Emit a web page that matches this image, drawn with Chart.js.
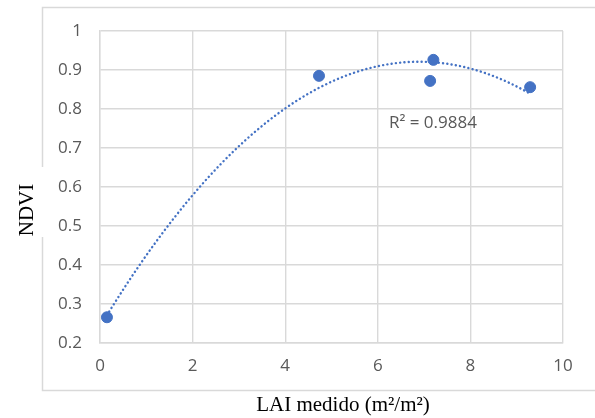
<!DOCTYPE html>
<html>
<head>
<meta charset="utf-8">
<script src="https://cdn.jsdelivr.net/npm/chart.js@4"></script>
<style>
  body { margin: 0; background: #fff; }
  #wrap { width: 595px; height: 418px; position: relative; }
</style>
</head>
<body>
<div id="wrap"><canvas id="chart"></canvas></div>
<script>
// measured LAI vs NDVI
const laiMedido = [0.15, 4.73, 7.13, 7.2, 9.29];
const ndvi = [0.266, 0.885, 0.872, 0.926, 0.856];
const xTitle = 'LAI medido (m²/m²)';
const yTitle = 'NDVI';
const r2Text = 'R² = 0.9884';

// 2nd order polynomial trendline (least squares, like excel)
function quadFit(xs, ys) {
  var n = xs.length, s = [0, 0, 0, 0, 0], t = [0, 0, 0];
  for (var i = 0; i < n; i++) {
    var p = 1;
    for (var k = 0; k < 5; k++) { s[k] += p; if (k < 3) t[k] += p * ys[i]; p *= xs[i]; }
  }
  var m = [[s[0], s[1], s[2], t[0]], [s[1], s[2], s[3], t[1]], [s[2], s[3], s[4], t[2]]];
  for (var c = 0; c < 3; c++) {
    for (var r = c + 1; r < 3; r++) {
      var f = m[r][c] / m[c][c];
      for (var j = c; j < 4; j++) m[r][j] -= f * m[c][j];
    }
  }
  var b = [0, 0, 0];
  for (var r2 = 2; r2 >= 0; r2--) {
    var v = m[r2][3];
    for (var j2 = r2 + 1; j2 < 3; j2++) v -= m[r2][j2] * b[j2];
    b[r2] = v / m[r2][r2];
  }
  return b;
}

var coef = quadFit(laiMedido, ndvi);
var xMin = Math.min.apply(null, laiMedido), xMax = Math.max.apply(null, laiMedido);
var trend = [];
for (var i = 0; i <= 80; i++) {
  var x = xMin + (xMax - xMin) * i / 80;
  trend.push({ x: x, y: coef[0] + coef[1] * x + coef[2] * x * x });
}

const gridColor = '#d9d9d9';
const tickColor = '#595959';
const blue = '#4472c4';

var framePlugin = {
  id: 'frame',
  beforeDraw: function(chart) {
    var ctx = chart.ctx;
    ctx.save();
    ctx.fillStyle = '#fff';
    ctx.fillRect(0, 0, chart.width, chart.height);
    ctx.strokeStyle = gridColor;
    ctx.lineWidth = 1.5;
    ctx.beginPath();
    ctx.moveTo(chart.width + 2, 7.5); ctx.lineTo(42.5, 7.5); ctx.lineTo(42.5, 167);
    ctx.moveTo(42.5, 237); ctx.lineTo(42.5, 390.5); ctx.lineTo(chart.width + 2, 390.5);
    ctx.stroke();
    ctx.restore();
  },
  afterDraw: function(chart) {
    var ctx = chart.ctx;
    var xs = chart.scales.x, ys = chart.scales.y;
    ctx.save();
    ctx.fillStyle = '#000';
    ctx.font = '21px "Liberation Serif"';
    ctx.textAlign = 'center';
    ctx.textBaseline = 'alphabetic';
    ctx.fillText(xTitle, 343, 411);
    ctx.translate(33, 210);
    ctx.rotate(-Math.PI / 2);
    ctx.fillText(yTitle, 0, 0);
    ctx.restore();

    ctx.save();
    ctx.fillStyle = tickColor;
    ctx.font = '17px "Open Sans"';
    ctx.textAlign = 'left';
    ctx.textBaseline = 'alphabetic';
    ctx.fillText(r2Text, xs.getPixelForValue(6.24), ys.getPixelForValue(0.751));
    ctx.restore();
  }
};

new Chart(document.getElementById('chart'), {
  type: 'scatter',
  data: {
    datasets: [
      {
        label: 'NDVI',
        data: laiMedido.map((v, i) => ({ x: v, y: ndvi[i] })),
        backgroundColor: blue,
        borderColor: blue,
        pointRadius: 5.5,
        pointHoverRadius: 5.5,
        order: 0
      },
      {
        label: 'Poly. (NDVI)',
        type: 'line',
        data: trend,
        borderColor: blue,
        borderWidth: 2.4,
        borderDash: [0.1, 4.2],
        borderCapStyle: 'round',
        pointRadius: 0,
        fill: false,
        tension: 0,
        order: 1
      }
    ]
  },
  options: {
    responsive: true,
    maintainAspectRatio: false,
    animation: false,
    layout: { padding: { left: 0, top: 31, right: 32, bottom: 0 } },
    plugins: {
      legend: { display: false },
      tooltip: { enabled: false }
    },
    scales: {
      x: {
        type: 'linear',
        min: 0, max: 10,
        ticks: { stepSize: 2, color: tickColor, font: { family: 'Open Sans', size: 17 }, padding: 13 },
        grid: { color: gridColor, lineWidth: 1.4, drawTicks: false },
        border: { color: gridColor, width: 1.4 },
        afterFit: function(s) { s.height = 75; }
      },
      y: {
        min: 0.2, max: 1,
        ticks: {
          stepSize: 0.1, color: tickColor, font: { family: 'Open Sans', size: 17 }, padding: 18,
          callback: function(v) { return String(Number(v.toFixed(1))); }
        },
        grid: { color: gridColor, lineWidth: 1.4, drawTicks: false },
        border: { color: gridColor, width: 1.4 },
        afterFit: function(s) { s.width = 100; }
      }
    }
  },
  plugins: [framePlugin]
});
</script>
</body>
</html>
